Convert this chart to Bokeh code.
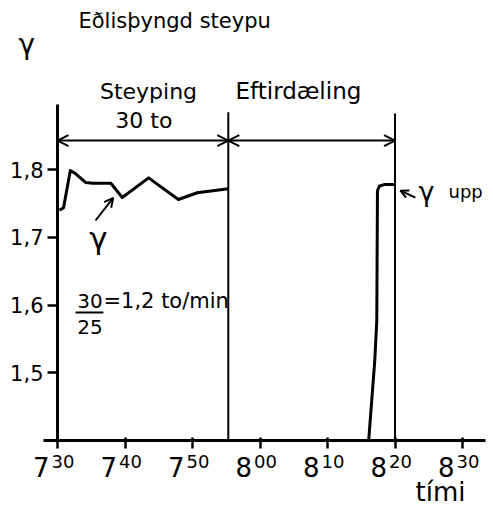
from bokeh.plotting import figure
from bokeh.models import (FixedTicker, CustomJSTickFormatter, LabelSet,
                          ColumnDataSource, Arrow, OpenHead, Range1d)
from bokeh.core.properties import value
from bokeh.embed import file_html
from bokeh.resources import INLINE

# time in minutes after 7:30, specific gravity (gamma)
cast_t = [0.3, 0.9, 1.9, 2.7, 4.2, 5.2, 7.9, 9.6, 13.5, 17.9, 20.7, 25.3]
cast_g = [1.740, 1.744, 1.799, 1.794, 1.781, 1.780, 1.780, 1.759, 1.788, 1.756, 1.766, 1.772]
rise_t = [46.1, 47.0, 47.3, 47.4, 47.7, 48.4, 50.0]
rise_g = [1.400, 1.518, 1.577, 1.769, 1.776, 1.778, 1.778]

tick_t = [0, 10, 20, 30, 40, 50, 60]
tick_hour = ["7", "7", "7", "8", "8", "8", "8"]
tick_min = ["30", "40", "50", "00", "10", "20", "30"]
y_ticks = [1.5, 1.6, 1.7, 1.8]

phase_t = [25.3, 50.0]        # end of casting, 8:20
phase_top = [1.885, 1.883]

FONT = "DejaVu Sans"
W, H = 493, 507

p = figure(width=W, height=H, x_range=Range1d(-8.444, 64.59), y_range=Range1d(1.301, 2.050),
           output_backend="svg", toolbar_location=None,
           min_border_left=0, min_border_right=0, min_border_top=0, min_border_bottom=0)
p.outline_line_color = None
p.grid.visible = False
p.background_fill_color = "white"

for ax in (p.xaxis[0], p.yaxis[0]):
    ax.axis_line_width = 3
    ax.axis_line_color = "black"
    ax.major_tick_line_width = 2.5
    ax.major_tick_line_color = "black"
    ax.minor_tick_line_color = None

p.xaxis.fixed_location = 1.4
p.xaxis.bounds = (-2.1, 63.4)
p.xaxis.ticker = FixedTicker(ticks=tick_t)
p.xaxis.major_tick_out = 8
p.xaxis.major_tick_in = 3
p.xaxis.formatter = CustomJSTickFormatter(code="return '';")

p.yaxis.fixed_location = 0
p.yaxis.bounds = (1.4, 1.897)
p.yaxis.ticker = FixedTicker(ticks=y_ticks)
p.yaxis.major_tick_out = 10
p.yaxis.major_tick_in = 0
p.yaxis.formatter = CustomJSTickFormatter(code="return tick.toFixed(1).replace('.', ',');")
p.yaxis.major_label_text_font = FONT
p.yaxis.major_label_text_font_size = "21px"
p.yaxis.major_label_text_color = "black"
p.yaxis.major_label_standoff = 4

# phase boundaries
p.segment(x0=phase_t, y0=[1.4, 1.4], x1=phase_t, y1=phase_top, line_color="black", line_width=2)

# data
p.line(cast_t, cast_g, line_color="black", line_width=3, line_join="round")
p.line(rise_t, rise_g, line_color="black", line_width=3, line_join="round")

# duration arrows
p.add_layout(Arrow(start=OpenHead(size=11, line_width=2), end=OpenHead(size=11, line_width=2),
                   x_start=0, y_start=1.843, x_end=phase_t[0], y_end=1.843, line_width=2))
p.add_layout(Arrow(start=OpenHead(size=11, line_width=2), end=OpenHead(size=11, line_width=2),
                   x_start=phase_t[0], y_start=1.843, x_end=phase_t[1], y_end=1.843, line_width=2))
# pointer arrows
p.add_layout(Arrow(end=OpenHead(size=9, line_width=2), x_start=5.63, y_start=1.725,
                   x_end=8.25, y_end=1.7585, line_width=2))
p.add_layout(Arrow(end=OpenHead(size=8, line_width=2), x_start=53.0, y_start=1.759,
                   x_end=50.8, y_end=1.769, line_width=2))

# fraction line
p.segment(x0=[2.67], y0=[1.589], x1=[6.81], y1=[1.589], line_color="black", line_width=2)


def lab(text, x, y, size, align="left", xu="data", yu="data"):
    src = ColumnDataSource(dict(x=[x], y=[y], s=[text]))
    p.add_layout(LabelSet(source=src, x="x", y="y", text="s", x_units=xu, y_units=yu,
                          text_font=value(FONT), text_font_size=size, text_align=align,
                          text_baseline="alphabetic", text_color="black"))


# texts placed in screen units (y measured from the bottom)
lab("γ", 18, H - 53, "28px", xu="screen", yu="screen")
lab("Eðlisþyngd steypu", 78, H - 27, "21px", xu="screen", yu="screen")
lab("Steyping", 148, H - 98, "22px", align="center", xu="screen", yu="screen")
lab("Eftirdæling", 235, H - 98, "23px", xu="screen", yu="screen")
lab("tími", 415, H - 500, "26px", xu="screen", yu="screen")
# texts in data units
lab("30 to", 12.8, 1.861, "22px", align="center")
lab("γ", 6.07, 1.6836, "31px", align="center")
lab("30", 4.81, 1.595, "20px", align="center")
lab("25", 4.81, 1.558, "20px", align="center")
lab("=1,2 to/min", 6.81, 1.595, "21px")
lab("γ", 53.48, 1.7538, "27px")
lab("upp", 57.93, 1.7575, "18px")

# x tick labels: hour with superscript minutes
src = ColumnDataSource(dict(t=tick_t, h=tick_hour, m=tick_min))
p.add_layout(LabelSet(source=src, x="t", y=H - 476, text="h", y_units="screen", x_offset=-8,
                      text_align="right", text_font=value(FONT), text_font_size="26px",
                      text_color="black"))
p.add_layout(LabelSet(source=src, x="t", y=H - 467, text="m", y_units="screen", x_offset=-6,
                      text_align="left", text_font=value(FONT), text_font_size="18px",
                      text_color="black"))

open("out.html", "w").write(file_html(p, INLINE))
